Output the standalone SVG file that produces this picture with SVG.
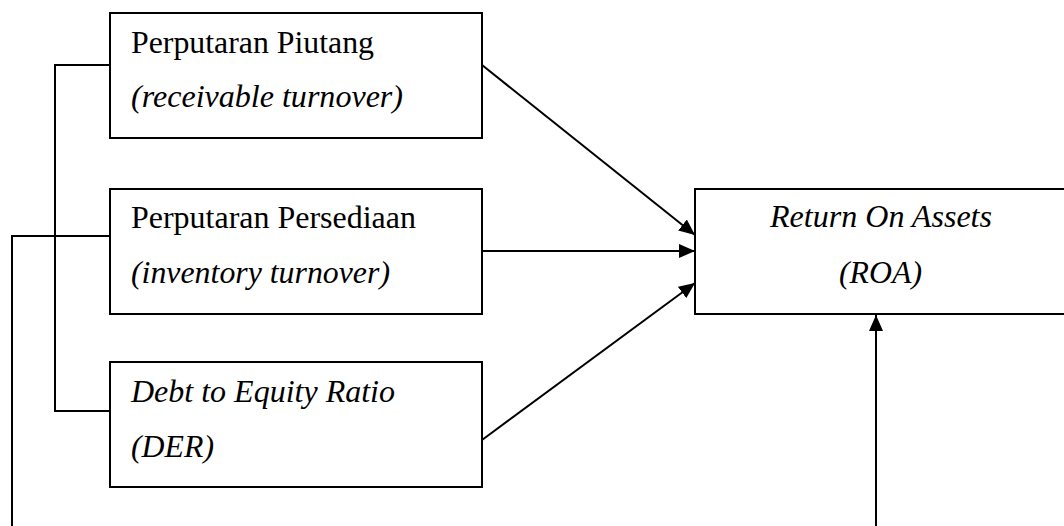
<svg xmlns="http://www.w3.org/2000/svg" width="1064" height="526" viewBox="0 0 1064 526">
<style>
.box{fill:#fff;stroke:#000;stroke-width:2}
.ln{fill:none;stroke:#000;stroke-width:2}
.t{font-family:"Liberation Serif","Times New Roman",serif;font-size:31px;fill:#000}
.i{font-style:italic}
</style>
<defs>
<marker id="ah" viewBox="0 0 16 14" refX="16" refY="7" markerWidth="16" markerHeight="14" markerUnits="userSpaceOnUse" orient="auto">
<path d="M0,0 L16,7 L0,14 Z" fill="#000"/>
</marker>
</defs>
<g id="connectors">
<polyline class="ln" points="110,65 55,65 55,411 110,411"/>
<polyline class="ln" points="110,236 12,236 12,526"/>
<line class="ln" x1="482" y1="65" x2="695" y2="235" marker-end="url(#ah)"/>
<line class="ln" x1="482" y1="251" x2="695" y2="251" marker-end="url(#ah)"/>
<line class="ln" x1="482" y1="440" x2="695" y2="283" marker-end="url(#ah)"/>
<line class="ln" x1="876" y1="526" x2="876" y2="315" marker-end="url(#ah)"/>
</g>
<g id="node-piutang">
<rect class="box" x="110" y="13" width="372" height="125"/>
<text class="t" x="131" y="53" textLength="243" lengthAdjust="spacingAndGlyphs">Perputaran Piutang</text>
<text class="t i" x="131" y="107" textLength="272" lengthAdjust="spacingAndGlyphs">(receivable turnover)</text>
</g>
<g id="node-persediaan">
<rect class="box" x="110" y="189" width="372" height="125"/>
<text class="t" x="131" y="228" textLength="285" lengthAdjust="spacingAndGlyphs">Perputaran Persediaan</text>
<text class="t i" x="131" y="283" textLength="259" lengthAdjust="spacingAndGlyphs">(inventory turnover)</text>
</g>
<g id="node-der">
<rect class="box" x="110" y="362" width="372" height="125"/>
<text class="t i" x="131" y="402" textLength="264" lengthAdjust="spacingAndGlyphs">Debt to Equity Ratio</text>
<text class="t i" x="131" y="457" textLength="83" lengthAdjust="spacingAndGlyphs">(DER)</text>
</g>
<g id="node-roa">
<rect class="box" x="695" y="189" width="380" height="125"/>
<text class="t i" x="770" y="227" textLength="222" lengthAdjust="spacingAndGlyphs">Return On Assets</text>
<text class="t i" x="839" y="283" textLength="83" lengthAdjust="spacingAndGlyphs">(ROA)</text>
</g>
</svg>
